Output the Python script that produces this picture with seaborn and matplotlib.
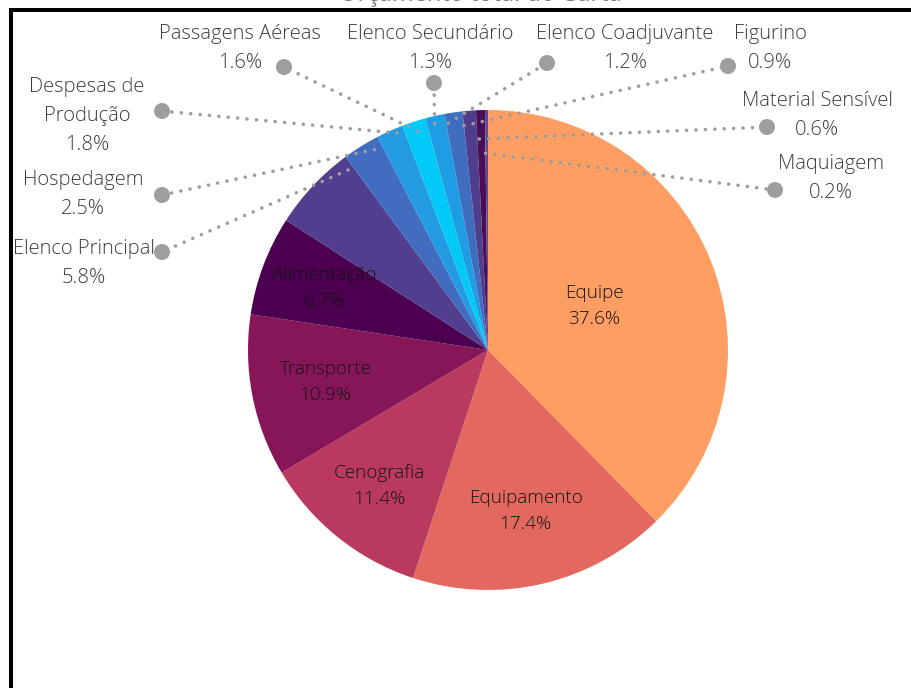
import matplotlib
matplotlib.use("Agg")
import matplotlib.pyplot as plt
from matplotlib.patches import Rectangle, Circle
import numpy as np
import seaborn as sns

# Budget shares (%) in clockwise order starting at 12 o'clock
categories = ["Equipe", "Equipamento", "Cenografia", "Transporte", "Alimentação",
              "Elenco Principal", "Hospedagem", "Despesas de Produção",
              "Passagens Aéreas", "Elenco Secundário", "Elenco Coadjuvante",
              "Figurino", "Material Sensível", "Maquiagem"]
shares = [37.6, 17.4, 11.4, 10.9, 6.7, 5.8, 2.5, 1.8, 1.6, 1.3, 1.2, 0.9, 0.6, 0.2]
slice_colors = ["#FF9E62", "#E3685F", "#B93A5E", "#861657", "#4B0050", "#523E8E",
                "#416CBF", "#229BE2", "#02CAF8", "#1F9DE4", "#3F6EBF", "#4F3E8C",
                "#4B0D55", "#5B4A9A"]
title = "Orçamento total do Curta"

sns.set_theme(style="white")
plt.rcParams["font.family"] = ["Open Sans", "DejaVu Sans"]

W, H = 911, 688
fig = plt.figure(figsize=(W / 100, H / 100), dpi=100)
ax = fig.add_axes([0, 0, 1, 1])
ax.set_xlim(0, W)
ax.set_ylim(0, H)
ax.axis("off")

def py(y):
    # convert a top-down pixel row into the axes' bottom-up coordinate
    return H - y

CX, CY, R = 488, py(350), 240
palette = sns.color_palette(slice_colors)
wedges, _ = ax.pie(shares, colors=palette, startangle=90, counterclock=False,
                   center=(CX, CY), radius=R, normalize=True,
                   wedgeprops=dict(linewidth=0))
ax.set_xlim(0, W)
ax.set_ylim(0, H)
ax.set_aspect("equal")

def fmt(v):
    return f"{v:.1f}%"

# labels drawn inside the five largest slices
inside_r = [0.48, 0.69, 0.725, 0.69, 0.73]
for i, rf in enumerate(inside_r):
    w = wedges[i]
    mid = np.deg2rad((w.theta1 + w.theta2) / 2)
    x = CX + rf * R * np.cos(mid)
    y = CY + rf * R * np.sin(mid)
    ax.text(x, y + 13, categories[i], ha="center", va="center",
            fontsize=13.6, color="#141414", fontweight="light")
    ax.text(x, y - 13, fmt(shares[i]), ha="center", va="center",
            fontsize=13.6, color="#141414", fontweight="light")

# outside labels: leader anchor inside the wedge (fraction of span, fraction of radius),
# end dot and text block position in pixels
out_idx = list(range(5, 14))
anchor_frac = [(0.93, 0.95), (0.76, 0.96), (0.72, 0.98), (0.52, 0.96), (0.40, 0.97),
               (0.12, 0.96), (0.0, 0.94), (0.25, 0.88), (0.0, 0.82)]
dot_px = [(162, 252), (162, 195), (162, 111), (284, 67), (434, 83),
          (547, 63), (728, 66), (767, 127), (775, 190)]
text_px = [(84, 249), (83, 180), (87, 87), (240, 34), (430, 34),
           (625, 34), (770, 34), (817, 101), (831, 164)]
name_lines = {"Despesas de Produção": ["Despesas de", "Produção"]}
LINE = 29
GREY = "#9E9E9E"

for k, i in enumerate(out_idx):
    w = wedges[i]
    af, rf = anchor_frac[k]
    ang = np.deg2rad(w.theta2 - af * (w.theta2 - w.theta1))
    ax0 = CX + rf * R * np.cos(ang)
    ay0 = CY + rf * R * np.sin(ang)
    dx, dy = dot_px[k]
    ax.plot([ax0, dx], [ay0, py(dy)], color=GREY, lw=2.6,
            linestyle=(0, (0.01, 2.6)), dash_capstyle="round", zorder=3)
    ax.add_patch(Circle((dx, py(dy)), 8, color=GREY, zorder=4, lw=0))
    tx, ty = text_px[k]
    lines = name_lines.get(categories[i], [categories[i]]) + [fmt(shares[i])]
    for j, s in enumerate(lines):
        ax.text(tx, py(ty + j * LINE), s, ha="center", va="center",
                fontsize=14.5, color="#3c3c3c", fontweight="light")

# frame around the chart area
ax.add_patch(Rectangle((11, -30), W + 50, py(10) + 30, fill=False,
                       edgecolor="black", lw=2.9, clip_on=False, zorder=5))

# title sitting above the frame, mostly beyond the top edge
ax.text(480, py(1), title, ha="center", va="baseline", fontsize=17,
        color="#777777", clip_on=False)

fig.savefig("out.png", dpi=100)
